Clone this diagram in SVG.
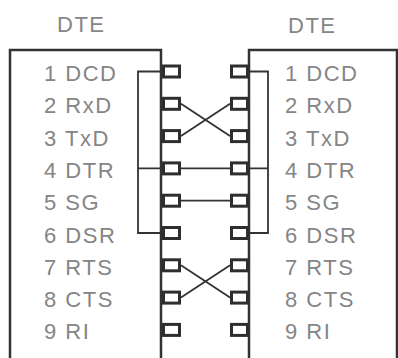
<svg xmlns="http://www.w3.org/2000/svg" width="398" height="358" viewBox="0 0 398 358">
  <style>
    .box { fill: none; stroke: #333; stroke-width: 2.5; }
    .pin { fill: #fff; stroke: #2e2e2e; stroke-width: 3; }
    .lbl { font-family: "Liberation Sans", Arial, sans-serif; font-size: 22px; fill: #858585; letter-spacing: 1.5px; }
    .wire { fill: none; stroke: #333; stroke-width: 1.8; }
  </style>
  <rect width="398" height="358" fill="#fff"/>
  <g id="dte-left">
    <path class="box" d="M10,358 V50 H161 V358"/>
    <text class="lbl" x="57" y="32">DTE</text>
    <g class="labels">
      <text class="lbl" x="44" y="81">1 DCD</text>
      <text class="lbl" x="44" y="113.3">2 RxD</text>
      <text class="lbl" x="44" y="145.6">3 TxD</text>
      <text class="lbl" x="44" y="177.9">4 DTR</text>
      <text class="lbl" x="44" y="210.2">5 SG</text>
      <text class="lbl" x="44" y="242.5">6 DSR</text>
      <text class="lbl" x="44" y="274.8">7 RTS</text>
      <text class="lbl" x="44" y="307.1">8 CTS</text>
      <text class="lbl" x="44" y="339.4">9 RI</text>
    </g>
    <g class="pins">
      <rect class="pin" x="163.5" y="66" width="16" height="11"/>
      <rect class="pin" x="163.5" y="98.3" width="16" height="11"/>
      <rect class="pin" x="163.5" y="130.6" width="16" height="11"/>
      <rect class="pin" x="163.5" y="162.9" width="16" height="11"/>
      <rect class="pin" x="163.5" y="195.2" width="16" height="11"/>
      <rect class="pin" x="163.5" y="227.5" width="16" height="11"/>
      <rect class="pin" x="163.5" y="259.8" width="16" height="11"/>
      <rect class="pin" x="163.5" y="292.1" width="16" height="11"/>
      <rect class="pin" x="163.5" y="324.4" width="16" height="11"/>
    </g>
  </g>
  <g id="dte-right">
    <path class="box" d="M249,358 V50 H397 V358"/>
    <text class="lbl" x="288" y="33">DTE</text>
    <g class="labels">
      <text class="lbl" x="285" y="81">1 DCD</text>
      <text class="lbl" x="285" y="113.3">2 RxD</text>
      <text class="lbl" x="285" y="145.6">3 TxD</text>
      <text class="lbl" x="285" y="177.9">4 DTR</text>
      <text class="lbl" x="285" y="210.2">5 SG</text>
      <text class="lbl" x="285" y="242.5">6 DSR</text>
      <text class="lbl" x="285" y="274.8">7 RTS</text>
      <text class="lbl" x="285" y="307.1">8 CTS</text>
      <text class="lbl" x="285" y="339.4">9 RI</text>
    </g>
    <g class="pins">
      <rect class="pin" x="231.5" y="66" width="16" height="11"/>
      <rect class="pin" x="231.5" y="98.3" width="16" height="11"/>
      <rect class="pin" x="231.5" y="130.6" width="16" height="11"/>
      <rect class="pin" x="231.5" y="162.9" width="16" height="11"/>
      <rect class="pin" x="231.5" y="195.2" width="16" height="11"/>
      <rect class="pin" x="231.5" y="227.5" width="16" height="11"/>
      <rect class="pin" x="231.5" y="259.8" width="16" height="11"/>
      <rect class="pin" x="231.5" y="292.1" width="16" height="11"/>
      <rect class="pin" x="231.5" y="324.4" width="16" height="11"/>
    </g>
  </g>
  <g id="connectors">
    <path class="wire" d="M161,71.5 H138 V233 H161 M138,168.4 H161"/>
    <path class="wire" d="M249,71.5 H268 V233 H249 M249,168.4 H268"/>
    <path class="wire" d="M181,103.8 L230,136.1 M181,136.1 L230,103.8"/>
    <path class="wire" d="M181,168.4 H230"/>
    <path class="wire" d="M181,200.7 H230"/>
    <path class="wire" d="M181,265.3 L230,297.6 M181,297.6 L230,265.3"/>
  </g>
</svg>
